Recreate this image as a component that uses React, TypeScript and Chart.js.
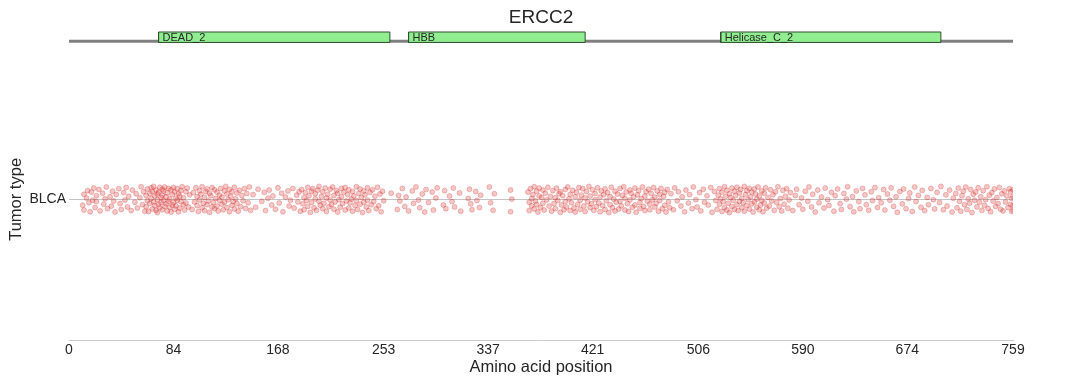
import React, { useEffect, useRef } from 'react';
import { Chart, registerables } from 'chart.js';

Chart.register(...registerables);

const GENE = 'ERCC2';
const PROTEIN_LENGTH = 759;
const X_TICKS = [0, 84, 168, 253, 337, 421, 506, 590, 674, 759];
const TUMOR_TYPES = ['BLCA'];
const DOMAIN_NAMES = ['DEAD_2', 'HBB', 'Helicase_C_2'];
const DOMAIN_STARTS = [72, 273, 524];
const DOMAIN_ENDS = [258, 415, 701];

// [amino acid position, jitter offset in thousandths of a category unit]
const MUTATIONS: [number, number][] = [
  [11,-21],[12,18],[12,-38],[14,5],[15,31],[16,-12],[17,-44],[18,26],[19,-3],[20,40],[21,-29],[22,13],[22,-8],[24,35],[25,-41],[27,22],[28,-17],[29,2],[30,44],[31,-33],[33,9],[34,-24],[35,29],[36,-6],[37,-45],[38,17],[40,38],[41,-15],[42,-36],[44,24],[45,-2],[46,42],[47,-27],[48,11],[50,-40],[51,33],[53,-10],[54,20],[55,-31],[57,6],[58,45],[59,-19],[60,27],[61,-42],
  [62,14],[62,-26],[63,37],[63,-5],[64,-43],[65,21],[65,-14],[66,41],[66,3],[67,-34],[67,28],[68,-9],[68,46],[69,-22],[69,12],[70,-39],[70,33],[71,-1],[71,19],[71,-47],[72,25],[72,-18],[73,43],[73,-30],[74,7],[74,-11],[75,36],[75,-37],[75,15],[76,-4],[76,30],[77,-25],[77,44],[78,-16],[78,9],[79,-41],[79,23],[80,-7],[80,39],[81,-28],[81,1],[82,34],[82,-45],[83,17],[83,-20],[84,42],[84,-12],[85,-35],[85,26],[86,4],[86,-23],[87,38],[87,-3],[88,-44],[88,20],[89,11],[89,-31],[90,31],[90,-8],[91,45],[92,-19],[92,6],[93,-38],[94,27],[94,-13],[95,40],[96,-27],[97,16],
  [99,-36],[100,24],[101,-9],[102,41],[103,-22],[103,10],[104,-43],[105,31],[105,-2],[106,18],[107,-30],[107,45],[108,-14],[109,7],[109,-40],[110,28],[111,-19],[111,37],[112,-6],[113,22],[113,-46],[114,13],[115,-27],[115,42],[116,-11],[117,34],[117,-33],[118,3],[119,-24],[119,26],[120,-41],[121,15],[121,-4],[122,39],[123,-17],[123,8],[124,-37],[125,30],[125,-10],[126,46],[127,-29],[127,19],[128,-1],[129,-44],[129,35],[130,11],[131,-21],[131,27],[132,-8],[133,43],[133,-34],[134,2],[135,23],[135,-15],[136,-42],[137,32],[138,-26],[139,14],[140,-5],[141,38],[142,-32],[143,21],[144,-12],[145,44],[146,-39],
  [148,17],[150,-28],[152,36],[155,-7],[157,25],[158,-40],[160,4],[161,33],[163,-20],[164,12],[166,-35],[168,41],[169,-13],[171,22],[172,-44],[174,8],[176,30],[177,-24],[178,-3],[180,39],[181,-31],[183,15],[184,-9],[185,27],[186,-42],
  [187,35],[188,-16],[189,6],[189,-37],[190,24],[191,-4],[192,43],[192,-25],[193,13],[194,-46],[195,29],[195,-11],[196,38],[197,-30],[198,2],[198,20],[199,-39],[200,33],[201,-7],[201,46],[202,-21],[203,10],[204,-33],[204,27],[205,-14],[206,40],[207,-43],[207,5],[208,18],[209,-26],[210,36],[210,-2],[211,-18],[212,44],[213,-35],[213,14],[214,-9],[215,31],[216,-45],[216,22],[217,-1],[218,-28],[219,39],[219,9],[220,-15],[221,26],[222,-38],[222,42],[223,-6],[224,17],[225,-31],[225,34],[226,-12],[227,1],[228,-42],[228,28],[229,12],[230,-22],[231,45],[231,-4],[232,-36],[233,21],[234,-17],[234,37],[235,7],[236,-47],[237,30],[237,-10],[238,16],[239,-27],[240,41],[240,-3],[241,-40],[242,25],[243,-19],[244,34],[245,-8],[246,11],[247,-33],[248,43],[249,-23],[250,19],[251,-44],[252,29],[253,-5],
  [259,22],[264,-36],[265,14],[266,-6],[268,39],[270,-25],[271,8],[273,-41],[276,30],[277,-14],[279,44],[281,-2],[282,-30],[284,19],[286,-45],[287,35],[289,-11],[292,26],[293,-38],[295,5],[296,41],
  [301,-20],[302,31],[303,-33],[306,12],[308,-8],[309,40],[310,-27],[314,23],[315,-42],[321,3],[322,36],[323,-16],[324,-37],[327,28],[328,-4],[330,-29],[331,15],[338,44],[339,-12],[341,-39],[342,20],[355,-44],[355,33],[356,1],
  [369,26],[370,-10],[370,-40],[371,38],[372,3],[372,-23],[373,17],[374,-34],[374,45],[375,-6],[376,29],[376,-18],[377,-45],[378,12],[378,40],[379,-29],[380,7],[381,-14],[381,33],[382,-38],[383,22],[384,-2],[385,43],[386,-24],[387,10],
  [388,-42],[389,31],[390,-15],[391,6],[391,-33],[392,40],[393,-4],[394,20],[395,-46],[395,27],[396,-20],[397,13],[398,-37],[399,35],[399,-8],[400,-27],[401,44],[402,2],[403,-40],[403,18],[404,-12],[405,32],[406,-31],[407,9],[407,-45],[408,25],[409,-18],[410,42],[411,-3],[411,-35],[412,15],[413,38],[414,-24],[415,5],[415,-43],[416,28],[417,-9],[418,46],[419,-29],[419,12],[420,-16],[421,34],[422,-39],[423,21],[423,-1],[424,-26],[425,41],[426,-13],[427,8],[427,-44],[428,30],[429,-22],[430,17],[431,-36],[431,37],[432,-5],[433,24],[434,-47],[435,10],[435,-19],[436,43],[437,-30],[438,1],[439,29],[439,-41],[440,-10],[441,19],[442,-34],[443,39],[443,-7],[444,-23],[445,14],[446,45],[447,-38],[447,4],[448,26],[449,-15],[450,-43],[451,33],[451,-2],[452,22],[453,-28],[454,9],[455,40],[455,-20],[456,-46],[457,16],[458,31],[459,-11],[459,-32],[460,3],[461,44],[462,-25],[463,12],[463,-40],[464,27],[465,-6],[466,36],[467,-17],[467,-37],[468,21],[469,-1],[470,42],[471,-27],[471,8],[472,-14],[473,30],[474,-42],[475,18],[475,-4],[476,39],[477,-33],[478,11],[479,-21],[479,25],[480,-45],[481,35],[482,-9],[483,-30],
  [484,20],[486,-37],[487,41],[489,-5],[490,27],[492,-24],[493,9],[495,-44],[496,33],[498,-13],[499,17],[501,-33],[502,44],[504,-1],[505,-27],[507,24],[508,-41],[510,36],[511,-10],[513,13],[514,-20],[516,42],[517,-46],[519,28],[520,-4],[521,-35],[522,15],[523,38],[523,-17],[524,2],[525,-43],[525,26],[526,-8],[527,45],[527,-29],[528,11],[529,-38],[529,32],[530,-14],[531,20],[531,-47],[532,6],[533,-25],[533,40],[534,-3],[535,29],[535,-36],[536,14],[537,-19],[537,43],[538,-40],[539,23],[539,-7],[540,35],[541,-30],[541,4],[542,-12],[543,46],[543,-42],[544,17],[545,-22],[545,31],[546,-1],[547,-34],[547,39],[548,9],[549,-16],[549,26],[550,-45],[551,37],[551,-9],[552,19],[553,-28],[553,1],[554,44],[555,-37],[555,12],[556,-20],[557,30],[557,-4],[558,-44],[559,22],[559,-13],[560,41],[561,-31],[562,7],[563,-24],[564,34],[565,-6],[566,16],[567,-39],[568,27],[569,-11],[570,45],[571,-26],[572,3],[573,-41],[574,32],[575,-17],[576,11],[577,38],[578,-32],[579,-2],[580,24],
  [582,-40],[584,14],[585,36],[587,-19],[589,5],[590,-35],[592,29],[594,-7],[595,44],[597,-27],[598,18],[600,-45],[602,33],[603,-12],[605,8],[607,-31],[608,40],[610,-1],[611,-22],[613,25],[615,-42],[616,13],[618,37],[620,-15],[621,-36],[623,21],[625,1],[626,45],[628,-26],[630,10],[631,-44],[633,30],[635,-8],[636,-33],[638,39],[640,16],[641,-19],[643,-39],[645,27],[646,-4],[648,42],[650,-29],[651,6],
  [653,-12],[655,35],[656,-38],[658,19],[660,-3],[661,41],[663,-25],[665,9],[666,-46],[668,28],[670,-16],[671,37],[673,-33],[675,3],[676,23],[678,-43],[680,44],[681,-8],[683,14],[685,-28],[686,32],[688,-40],[690,7],[691,-19],[693,39],[695,-1],[696,-34],[698,25],[700,-11],[701,46],[703,-37],[705,16],[706,-24],[708,33],[710,-45],[711,4],[713,21],[714,-30],[715,40],[716,-7],[717,-42],[718,13],[719,29],[720,-19],[721,44],[722,-36],[723,2],[724,-14],[725,35],[726,-47],[727,18],[728,-3],[729,26],[730,-27],[731,41],[732,-10],[733,9],[734,-39],[735,31],[736,-21],[737,-1],[738,45],[739,-32],[740,15],[741,-44],[742,24],[743,-6],[744,37],[745,-25],[746,7],[747,-15],[748,42],[749,-35],[750,20],[751,-41],[752,30],[753,-9],[754,12],[755,-29],[756,38],[757,-18],[757,27],[758,-43],[758,3],[759,34],[759,-22],[759,-38],[759,11],
];

const FONT = "'Liberation Sans', Arial, sans-serif";
const TEXT = '#262626';
const TRACK_Y = 0.562;
const DOMAIN_Y0 = 0.558;
const DOMAIN_Y1 = 0.595;

const annotations = {
  id: 'annotations',
  afterDraw(chart: any) {
    const { ctx, scales, chartArea } = chart;
    ctx.save();
    // domain labels
    ctx.font = `11px ${FONT}`;
    ctx.fillStyle = TEXT;
    ctx.textAlign = 'left';
    ctx.textBaseline = 'alphabetic';
    DOMAIN_NAMES.forEach((name, i) => {
      const x = scales.x.getPixelForValue(DOMAIN_STARTS[i]) + 4;
      const y = scales.y.getPixelForValue(DOMAIN_Y0) - 1;
      ctx.fillText(name, x, y);
    });
    // gene title, centred on the plot
    ctx.font = `19px ${FONT}`;
    ctx.textAlign = 'center';
    ctx.textBaseline = 'middle';
    ctx.fillText(GENE, (chartArea.left + chartArea.right) / 2, 18);
    // y axis title, centred on the category band
    const yc = (chartArea.bottom + scales.y.getPixelForValue(0.5)) / 2;
    ctx.translate(16, yc);
    ctx.rotate(-Math.PI / 2);
    ctx.font = `16.5px ${FONT}`;
    ctx.fillText('Tumor type', 0, 0);
    ctx.restore();
  },
};

export default function App() {
  const ref = useRef<HTMLCanvasElement>(null);
  useEffect(() => {
    if (!ref.current) return;
    const domainSets = DOMAIN_NAMES.map((name, i) => ({
      label: name,
      data: [
        { x: DOMAIN_STARTS[i], y: DOMAIN_Y0 },
        { x: DOMAIN_ENDS[i], y: DOMAIN_Y0 },
        { x: DOMAIN_ENDS[i], y: DOMAIN_Y1 },
        { x: DOMAIN_STARTS[i], y: DOMAIN_Y1 },
        { x: DOMAIN_STARTS[i], y: DOMAIN_Y0 },
      ],
      showLine: true,
      fill: 'shape',
      backgroundColor: '#90ee90',
      borderColor: '#2d4f2d',
      borderWidth: 1,
      pointRadius: 0,
      tension: 0,
      order: 1,
    }));
    const chart = new Chart(ref.current, {
      type: 'scatter',
      data: {
        datasets: [
          ...domainSets,
          {
            label: 'backbone',
            data: [
              { x: 0, y: TRACK_Y },
              { x: PROTEIN_LENGTH, y: TRACK_Y },
            ],
            showLine: true,
            borderColor: '#808080',
            borderWidth: 3,
            pointRadius: 0,
            order: 2,
          },
          {
            label: TUMOR_TYPES[0],
            data: MUTATIONS.map(([pos, off]) => ({ x: pos, y: off / 1000 })),
            backgroundColor: 'rgba(214,39,40,0.26)',
            borderColor: 'rgba(214,39,40,0.26)',
            borderWidth: 1,
            pointRadius: 2.5,
            order: 3,
          },
        ] as any,
      },
      options: {
        animation: false,
        responsive: true,
        maintainAspectRatio: false,
        events: [],
        layout: { padding: { left: 0, right: 73, top: 30.6, bottom: 0 } },
        plugins: {
          legend: { display: false },
          tooltip: { enabled: false },
          title: { display: false },
        },
        scales: {
          x: {
            type: 'linear',
            min: 0,
            max: PROTEIN_LENGTH,
            afterBuildTicks: (axis: any) => {
              axis.ticks = X_TICKS.map((v) => ({ value: v }));
            },
            afterFit: (axis: any) => {
              axis.height = 45;
            },
            grid: { display: false, drawTicks: false },
            border: { display: true, color: '#cccccc', width: 1 },
            ticks: {
              autoSkip: false,
              maxRotation: 0,
              padding: 2,
              color: TEXT,
              font: { family: FONT, size: 14 },
            },
            title: {
              display: true,
              text: 'Amino acid position',
              color: TEXT,
              font: { family: FONT, size: 16.5 },
              padding: { top: 0, bottom: 8 },
            },
          },
          y: {
            type: 'linear',
            min: -0.5,
            max: 0.6,
            afterBuildTicks: (axis: any) => {
              axis.ticks = TUMOR_TYPES.map((_, i) => ({ value: i }));
            },
            afterFit: (axis: any) => {
              axis.width = 69;
            },
            grid: { display: true, color: '#c4c4c4', lineWidth: 1, drawTicks: false },
            border: { display: false },
            ticks: {
              padding: 3,
              color: TEXT,
              font: { family: FONT, size: 14 },
              callback: (v: any) => TUMOR_TYPES[Number(v)] ?? '',
            },
            title: { display: false },
          },
        },
      },
      plugins: [annotations],
    });
    return () => chart.destroy();
  }, []);
  return (
    <div style={{ position: 'fixed', left: 0, top: 0, width: 1086, height: 385 }}>
      <canvas ref={ref} />
    </div>
  );
}
